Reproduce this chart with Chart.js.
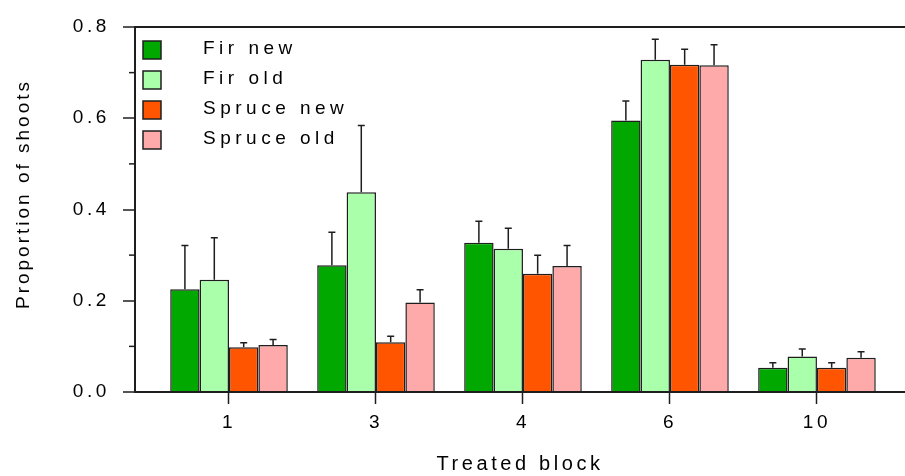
<!DOCTYPE html>
<html>
<head>
<meta charset="utf-8">
<script src="https://cdn.jsdelivr.net/npm/chart.js@4.4.1/dist/chart.umd.min.js"></script>
<style>
  html, body { margin: 0; padding: 0; background: #fff; }
  #wrap { width: 905px; height: 476px; }
</style>
</head>
<body>
<div id="wrap"><canvas id="shootChart" width="905" height="476"></canvas></div>
<script>
// --- Data ---
const blocks = ['1', '3', '4', '6', '10'];
const seriesNames = ['Fir new', 'Fir old', 'Spruce new', 'Spruce old'];

const firNew = [0.225, 0.278, 0.327, 0.595, 0.053];
const firNewErr = [0.096, 0.072, 0.047, 0.043, 0.011];
const firOld = [0.246, 0.438, 0.314, 0.728, 0.078];
const firOldErr = [0.092, 0.146, 0.045, 0.045, 0.016];
const spruceNew = [0.098, 0.109, 0.259, 0.717, 0.053];
const spruceNewErr = [0.010, 0.013, 0.041, 0.034, 0.011];
const spruceOld = [0.103, 0.196, 0.276, 0.716, 0.075];
const spruceOldErr = [0.012, 0.028, 0.045, 0.045, 0.013];

const yTicks = [0, 0.2, 0.4, 0.6, 0.8];
const yMinorTicks = [0.1, 0.3, 0.5, 0.7];

const colors = ['#00a800', '#aaffaa', '#ff5500', '#ffaaaa'];
const ink = '#1e1e1e';
const fontFamily = '"Liberation Sans", Arial, Helvetica, sans-serif';

document.addEventListener("DOMContentLoaded", () => {
    initChart();
});

// wide letter spacing like the original figure (axis ticks + x title)
const spacingPlugin = {
    id: 'spacing',
    beforeUpdate(chart) { chart.ctx.letterSpacing = '3.6px'; },
    beforeDraw(chart) { chart.ctx.letterSpacing = '3.6px'; }
};

// error bars, minor ticks, legend and y title
const extrasPlugin = {
    id: 'extras',
    afterDatasetsDraw(chart) {
        const ctx = chart.ctx;
        const y = chart.scales.y;
        ctx.save();
        ctx.strokeStyle = ink;
        ctx.lineWidth = 1.5;
        chart.data.datasets.forEach((ds, di) => {
            const meta = chart.getDatasetMeta(di);
            meta.data.forEach((bar, i) => {
                const top = y.getPixelForValue(ds.data[i].y + ds.errors[i]);
                ctx.beginPath();
                ctx.moveTo(bar.x, bar.y);
                ctx.lineTo(bar.x, top);
                ctx.moveTo(bar.x - 3.5, top);
                ctx.lineTo(bar.x + 3.5, top);
                ctx.stroke();
            });
        });
        ctx.restore();
    },
    afterDraw(chart) {
        const ctx = chart.ctx;
        const y = chart.scales.y;
        const area = chart.chartArea;
        ctx.save();

        // minor ticks
        ctx.strokeStyle = ink;
        ctx.lineWidth = 1.5;
        yMinorTicks.forEach(v => {
            const py = y.getPixelForValue(v);
            ctx.beginPath();
            ctx.moveTo(area.left - 6, py);
            ctx.lineTo(area.left, py);
            ctx.stroke();
        });

        // legend
        ctx.letterSpacing = '4.5px';
        ctx.font = '19px ' + fontFamily;
        ctx.textBaseline = 'middle';
        ctx.textAlign = 'left';
        chart.data.datasets.forEach((ds, i) => {
            const bx = area.left + 8;
            const by = area.top + 14 + i * 30;
            ctx.fillStyle = ds.backgroundColor;
            ctx.fillRect(bx, by, 18, 18);
            ctx.strokeStyle = ink;
            ctx.lineWidth = 1.5;
            ctx.strokeRect(bx, by, 18, 18);
            ctx.fillStyle = '#000';
            ctx.fillText(ds.label, area.left + 68, by + 8);
        });

        // y axis title
        ctx.letterSpacing = '3px';
        ctx.font = '19px ' + fontFamily;
        ctx.textAlign = 'center';
        ctx.translate(24, 194);
        ctx.rotate(-Math.PI / 2);
        ctx.fillText('Proportion of shoots', 0, 0);
        ctx.restore();
    }
};

function initChart() {
    const ctx = document.getElementById('shootChart').getContext('2d');
    const values = [firNew, firOld, spruceNew, spruceOld];
    const errors = [firNewErr, firOldErr, spruceNewErr, spruceOldErr];

    const datasets = values.map((vals, i) => ({
        label: seriesNames[i],
        data: vals.map((v, j) => ({ x: j, y: v })),
        errors: errors[i],
        backgroundColor: colors[i],
        borderColor: ink,
        borderWidth: 1.5,
        categoryPercentage: 0.8,
        barPercentage: 1.0
    }));

    new Chart(ctx, {
        type: 'bar',
        data: { datasets: datasets },
        plugins: [spacingPlugin, extrasPlugin],
        options: {
            responsive: false,
            animation: false,
            devicePixelRatio: 1,
            layout: { padding: { top: 27, right: 0, bottom: 0, left: 0 } },
            plugins: {
                legend: { display: false },
                tooltip: { enabled: false }
            },
            scales: {
                x: {
                    type: 'linear',
                    offset: false,
                    min: -0.6395,
                    max: 4.599,
                    afterBuildTicks(scale) {
                        scale.ticks = blocks.map((b, i) => ({ value: i }));
                    },
                    afterFit(scale) { scale.height = 84; },
                    ticks: {
                        autoSkip: false,
                        maxRotation: 0,
                        padding: 7,
                        color: '#000',
                        font: { family: fontFamily, size: 19 },
                        callback: (v) => blocks[v]
                    },
                    grid: {
                        offset: false,
                        drawOnChartArea: false,
                        drawTicks: true,
                        tickLength: 12,
                        tickColor: ink,
                        tickWidth: 1.5
                    },
                    border: { display: true, color: ink, width: 2 },
                    title: {
                        display: true,
                        text: 'Treated block',
                        color: '#000',
                        font: { family: fontFamily, size: 20 },
                        padding: { top: 0, bottom: 0 }
                    }
                },
                y: {
                    min: 0,
                    max: 0.8,
                    afterBuildTicks(scale) {
                        scale.ticks = yTicks.map(v => ({ value: v }));
                    },
                    afterFit(scale) { scale.width = 135; },
                    ticks: {
                        padding: 13,
                        color: '#000',
                        font: { family: fontFamily, size: 19 },
                        callback: (v) => v.toFixed(1)
                    },
                    grid: {
                        lineWidth: 2,
                        tickLength: 12,
                        tickColor: ink,
                        tickWidth: 1.5,
                        color: (c) => (c.tick && (c.tick.value === 0 || Math.abs(c.tick.value - 0.8) < 1e-6)) ? ink : 'rgba(0,0,0,0)'
                    },
                    border: { display: true, color: ink, width: 2 }
                }
            }
        }
    });
}
</script>
</body>
</html>
